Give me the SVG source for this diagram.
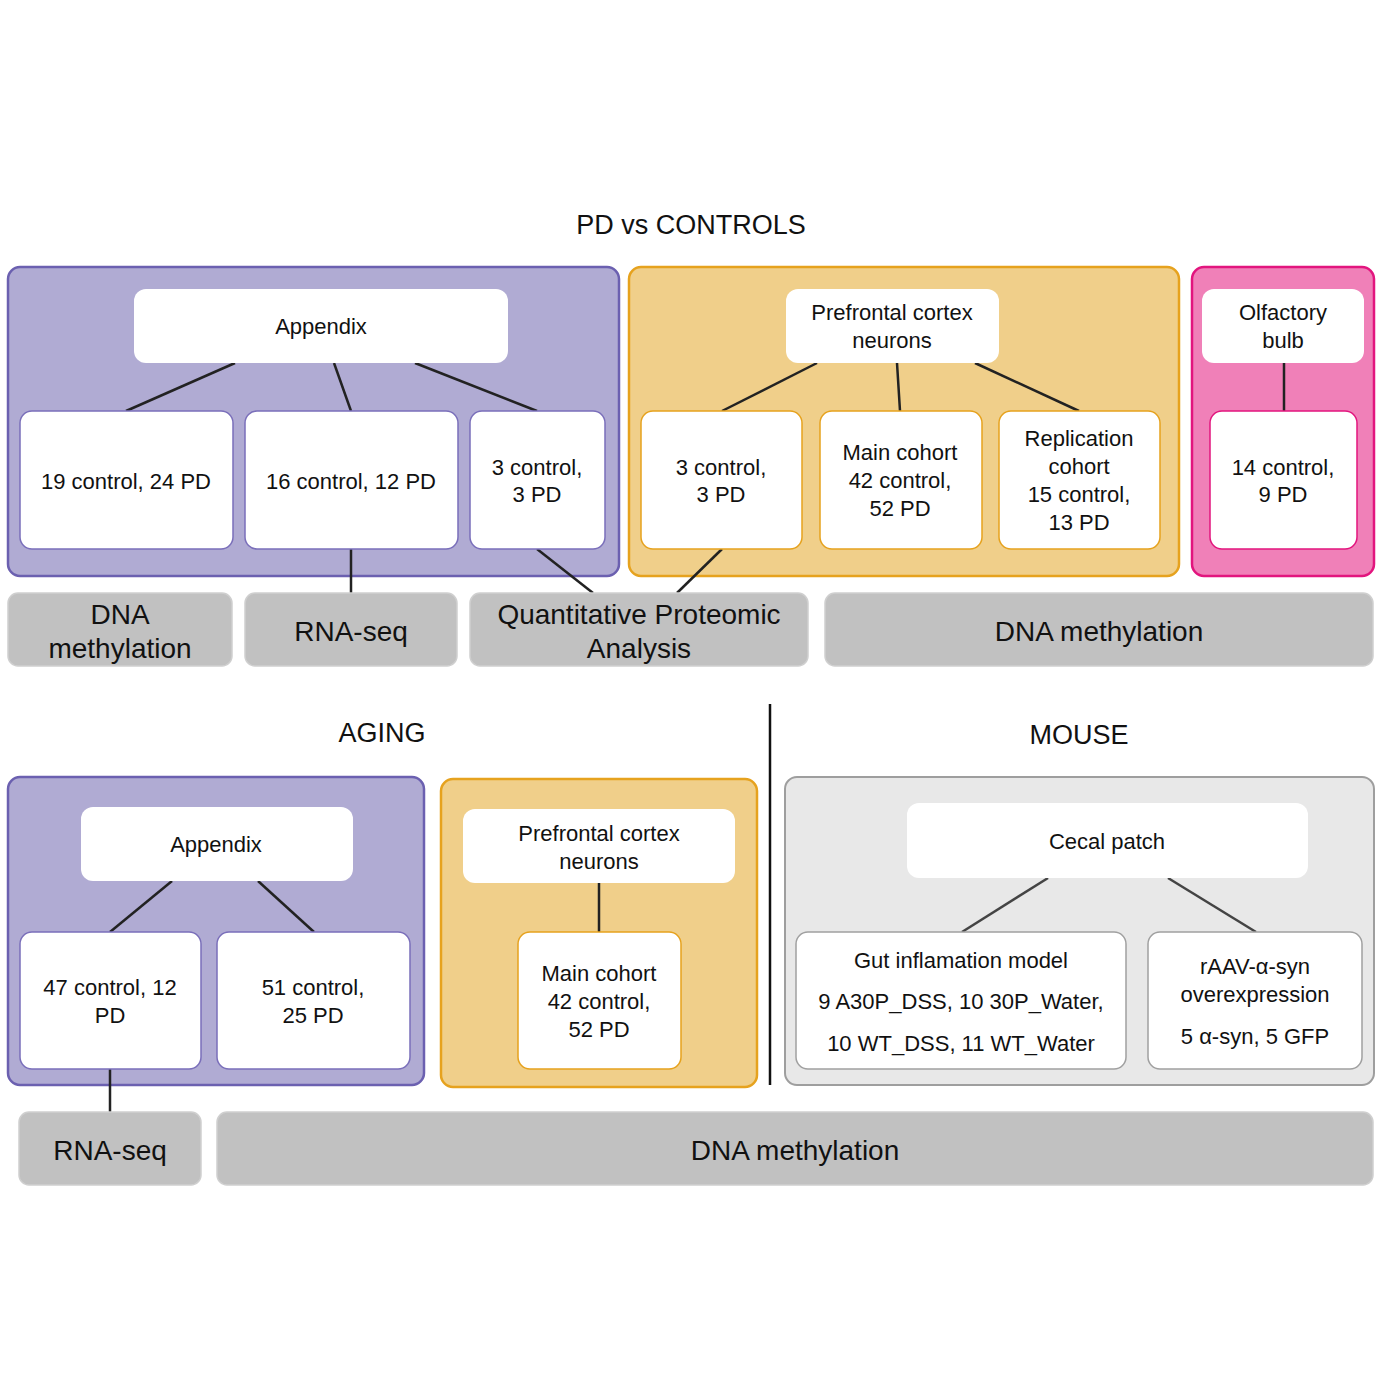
<svg xmlns="http://www.w3.org/2000/svg" width="1382" height="1382" viewBox="0 0 1382 1382">
<style>
text{font-family:"Liberation Sans",Arial,Helvetica,sans-serif;fill:#111;text-anchor:middle}
.t{font-size:22px}
.b{font-size:28px}
.h{font-size:27px}
.cp{fill:#b0abd3;stroke:#6b60b0;stroke-width:2.5}
.co{fill:#f0cf8a;stroke:#e6a21e;stroke-width:2.5}
.ck{fill:#f080b8;stroke:#e2157e;stroke-width:2.5}
.cg{fill:#e8e8e8;stroke:#9e9e9e;stroke-width:2}
.w{fill:#fff}
.wp{fill:#fff;stroke:#7a6fba;stroke-width:1.5}
.wo{fill:#fff;stroke:#e6a21e;stroke-width:1.5}
.wk{fill:#fff;stroke:#e2157e;stroke-width:1.5}
.wg{fill:#fff;stroke:#a0a0a0;stroke-width:1.5}
.g{fill:#c1c1c1;stroke:#cfcfcf;stroke-width:1.5}
.l{stroke:#222;stroke-width:2.5;fill:none}
.lg{stroke:#444;stroke-width:2.5;fill:none}
</style>
<rect width="1382" height="1382" fill="#fff"/>
<text class="h" x="691" y="234">PD vs CONTROLS</text>
<text class="h" x="382" y="742">AGING</text>
<text class="h" x="1079" y="744">MOUSE</text>
<line x1="770" y1="704" x2="770" y2="1085" stroke="#111" stroke-width="2.5"/>

<g id="pd-appendix-group">
<rect class="cp" x="8" y="267" width="611" height="309" rx="12"/>
</g>
<g id="pd-pfc-group">
<rect class="co" x="629" y="267" width="550" height="309" rx="12"/>
</g>
<g id="pd-ob-group">
<rect class="ck" x="1192" y="267" width="182" height="309" rx="12"/>
</g>
<g id="aging-appendix-group">
<rect class="cp" x="8" y="777" width="416" height="308" rx="12"/>
</g>
<g id="aging-pfc-group">
<rect class="co" x="441" y="779" width="316" height="308" rx="12"/>
</g>
<g id="mouse-group">
<rect class="cg" x="785" y="777" width="589" height="308" rx="12"/>
</g>

<g id="connectors">
<line class="l" x1="235" y1="363" x2="126" y2="411"/>
<line class="l" x1="334" y1="363" x2="351" y2="411"/>
<line class="l" x1="415" y1="363" x2="537" y2="411"/>
<line class="l" x1="351" y1="549" x2="351" y2="593"/>
<line class="l" x1="537" y1="549" x2="593" y2="593"/>
<line class="l" x1="817" y1="363" x2="722" y2="411"/>
<line class="l" x1="897" y1="363" x2="900" y2="411"/>
<line class="l" x1="975" y1="363" x2="1079" y2="411"/>
<line class="l" x1="722" y1="549" x2="677" y2="593"/>
<line class="l" x1="1284" y1="363" x2="1284" y2="411"/>
<line class="l" x1="172" y1="881" x2="110" y2="932"/>
<line class="l" x1="258" y1="881" x2="314" y2="932"/>
<line class="l" x1="110" y1="1069" x2="110" y2="1112"/>
<line class="l" x1="599" y1="883" x2="599" y2="932" stroke="#3a3020"/>
<line class="lg" x1="1048" y1="878" x2="962" y2="932"/>
<line class="lg" x1="1168" y1="878" x2="1256" y2="932"/>
</g>

<g id="pd-appendix">
<rect class="w" x="134" y="289" width="374" height="74" rx="12"/>
<text class="t" x="321" y="334">Appendix</text>
</g>
<g id="pd-app-1">
<rect class="wp" x="20" y="411" width="213" height="138" rx="12"/>
<text class="t" x="126" y="489">19 control, 24 PD</text>
</g>
<g id="pd-app-2">
<rect class="wp" x="245" y="411" width="213" height="138" rx="12"/>
<text class="t" x="351" y="489">16 control, 12 PD</text>
</g>
<g id="pd-app-3">
<rect class="wp" x="470" y="411" width="135" height="138" rx="12"/>
<text class="t" x="537" y="475">3 control,</text>
<text class="t" x="537" y="502">3 PD</text>
</g>

<g id="pd-pfc">
<rect class="w" x="786" y="289" width="213" height="74" rx="12"/>
<text class="t" x="892" y="320">Prefrontal cortex</text>
<text class="t" x="892" y="348">neurons</text>
</g>
<g id="pd-pfc-1">
<rect class="wo" x="641" y="411" width="161" height="138" rx="12"/>
<text class="t" x="721" y="475">3 control,</text>
<text class="t" x="721" y="502">3 PD</text>
</g>
<g id="pd-pfc-2">
<rect class="wo" x="820" y="411" width="162" height="138" rx="12"/>
<text class="t" x="900" y="460">Main cohort</text>
<text class="t" x="900" y="488">42 control,</text>
<text class="t" x="900" y="516">52 PD</text>
</g>
<g id="pd-pfc-3">
<rect class="wo" x="999" y="411" width="161" height="138" rx="12"/>
<text class="t" x="1079" y="446">Replication</text>
<text class="t" x="1079" y="474">cohort</text>
<text class="t" x="1079" y="502">15 control,</text>
<text class="t" x="1079" y="530">13 PD</text>
</g>

<g id="pd-ob">
<rect class="w" x="1202" y="289" width="162" height="74" rx="12"/>
<text class="t" x="1283" y="320">Olfactory</text>
<text class="t" x="1283" y="348">bulb</text>
</g>
<g id="pd-ob-1">
<rect class="wk" x="1210" y="411" width="147" height="138" rx="12"/>
<text class="t" x="1283" y="475">14 control,</text>
<text class="t" x="1283" y="502">9 PD</text>
</g>

<g id="pd-dna1">
<rect class="g" x="8" y="593" width="224" height="73" rx="10"/>
<text class="b" x="120" y="624">DNA</text>
<text class="b" x="120" y="658">methylation</text>
</g>
<g id="pd-rna">
<rect class="g" x="245" y="593" width="212" height="73" rx="10"/>
<text class="b" x="351" y="641">RNA-seq</text>
</g>
<g id="pd-prot">
<rect class="g" x="470" y="593" width="338" height="73" rx="10"/>
<text class="b" x="639" y="624">Quantitative Proteomic</text>
<text class="b" x="639" y="658">Analysis</text>
</g>
<g id="pd-dna2">
<rect class="g" x="825" y="593" width="548" height="73" rx="10"/>
<text class="b" x="1099" y="641">DNA methylation</text>
</g>

<g id="ag-appendix">
<rect class="w" x="81" y="807" width="272" height="74" rx="12"/>
<text class="t" x="216" y="852">Appendix</text>
</g>
<g id="ag-app-1">
<rect class="wp" x="20" y="932" width="181" height="137" rx="12"/>
<text class="t" x="110" y="995">47 control, 12</text>
<text class="t" x="110" y="1023">PD</text>
</g>
<g id="ag-app-2">
<rect class="wp" x="217" y="932" width="193" height="137" rx="12"/>
<text class="t" x="313" y="995">51 control,</text>
<text class="t" x="313" y="1023">25 PD</text>
</g>

<g id="ag-pfc">
<rect class="w" x="463" y="809" width="272" height="74" rx="12"/>
<text class="t" x="599" y="841">Prefrontal cortex</text>
<text class="t" x="599" y="869">neurons</text>
</g>
<g id="ag-pfc-1">
<rect class="wo" x="518" y="932" width="163" height="137" rx="12"/>
<text class="t" x="599" y="981">Main cohort</text>
<text class="t" x="599" y="1009">42 control,</text>
<text class="t" x="599" y="1037">52 PD</text>
</g>

<g id="mo-cecal">
<rect class="w" x="907" y="803" width="401" height="75" rx="12"/>
<text class="t" x="1107" y="849">Cecal patch</text>
</g>
<g id="mo-gut">
<rect class="wg" x="796" y="932" width="330" height="137" rx="12"/>
<text class="t" x="961" y="968">Gut inflamation model</text>
<text class="t" x="961" y="1009">9 A30P_DSS, 10 30P_Water,</text>
<text class="t" x="961" y="1051">10 WT_DSS, 11 WT_Water</text>
</g>
<g id="mo-raav">
<rect class="wg" x="1148" y="932" width="214" height="137" rx="12"/>
<text class="t" x="1255" y="974">rAAV-α-syn</text>
<text class="t" x="1255" y="1002">overexpression</text>
<text class="t" x="1255" y="1044">5 α-syn, 5 GFP</text>
</g>

<g id="ag-rna">
<rect class="g" x="19" y="1112" width="182" height="73" rx="10"/>
<text class="b" x="110" y="1160">RNA-seq</text>
</g>
<g id="ag-dna">
<rect class="g" x="217" y="1112" width="1156" height="73" rx="10"/>
<text class="b" x="795" y="1160">DNA methylation</text>
</g>
</svg>
